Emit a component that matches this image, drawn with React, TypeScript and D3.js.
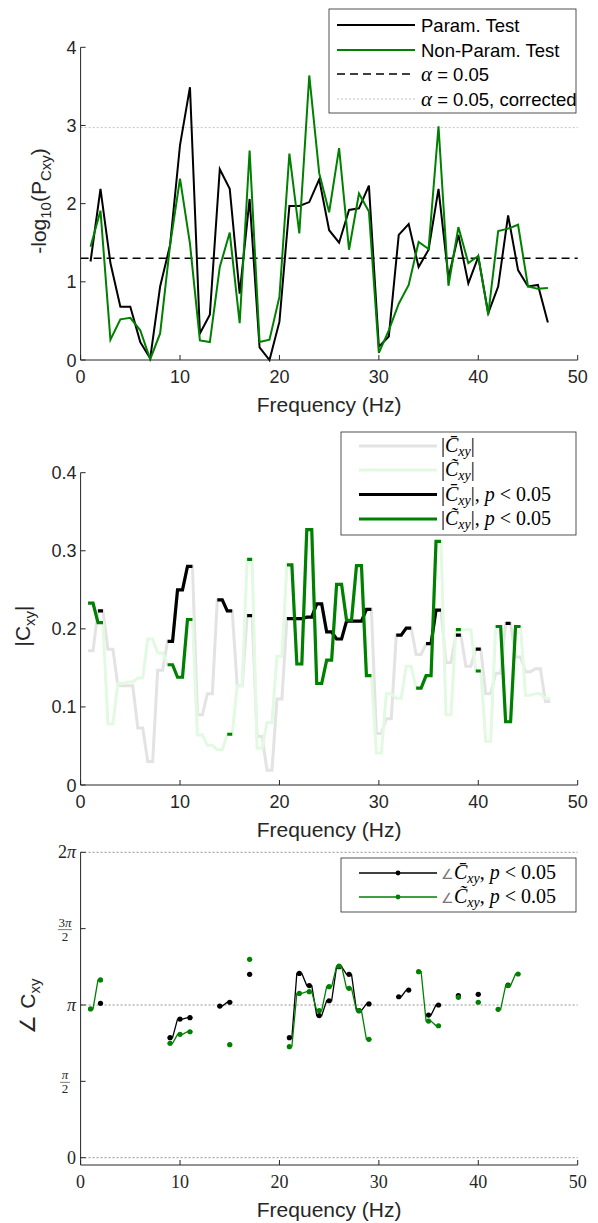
import React from "react";
import * as d3 from "d3";

const freqs = [1,2,3,4,5,6,7,8,9,10,11,12,13,14,15,16,17,18,19,20,21,22,23,24,25,26,27,28,29,30,31,32,33,34,35,36,37,38,39,40,41,42,43,44,45,46,47];

// -log10(P) parametric test
const paramLogP = [1.26,2.19,1.24,0.68,0.68,0.23,0.02,0.94,1.47,2.75,3.49,0.34,0.58,2.44,2.19,0.85,2.06,0.16,0.00,0.49,1.97,1.97,2.02,2.31,1.66,1.50,1.92,1.94,2.23,0.17,0.30,1.60,1.74,1.19,1.41,2.19,1.05,1.60,0.98,1.32,0.60,0.94,1.85,1.15,0.94,0.96,0.48];
// -log10(P) non-parametric test
const nonParamLogP = [1.45,1.91,0.26,0.52,0.54,0.38,0.01,0.34,1.47,2.32,1.49,0.25,0.23,1.19,1.63,0.47,2.68,0.23,0.26,0.81,2.64,1.62,3.64,2.39,1.89,2.71,1.41,2.13,1.90,0.09,0.38,0.72,0.96,1.51,1.42,2.99,0.95,1.70,1.24,1.33,0.58,1.65,1.68,1.73,0.94,0.91,0.92];

// |C| parametric (bar) and non-parametric (tilde)
const paramMag = [0.172,0.223,0.174,0.127,0.127,0.073,0.030,0.147,0.184,0.250,0.280,0.090,0.117,0.237,0.223,0.127,0.217,0.062,0.019,0.110,0.213,0.213,0.215,0.232,0.196,0.187,0.210,0.210,0.225,0.066,0.085,0.192,0.201,0.167,0.181,0.224,0.157,0.192,0.152,0.174,0.117,0.143,0.207,0.164,0.145,0.149,0.107];
const nonParamMag = [0.233,0.208,0.078,0.130,0.132,0.137,0.187,0.169,0.154,0.138,0.212,0.064,0.051,0.045,0.065,0.127,0.289,0.047,0.080,0.165,0.282,0.155,0.327,0.130,0.160,0.257,0.211,0.281,0.140,0.041,0.117,0.111,0.152,0.124,0.140,0.312,0.090,0.199,0.199,0.146,0.056,0.203,0.081,0.203,0.115,0.117,0.111];

// phase in units of pi (null where not significant)
const N = null;
const paramPhase = [N,1.011,N,N,N,N,N,N,0.786,0.908,0.917,N,N,0.993,1.018,N,1.201,N,N,N,0.786,1.207,1.127,0.930,1.028,1.251,1.201,0.963,1.007,N,N,1.054,1.098,N,0.934,1.000,N,1.061,N,1.070,N,N,1.130,N,N,N,N];
const nonParamPhase = [0.974,1.164,N,N,N,N,N,N,0.749,0.808,0.825,N,N,N,0.740,N,1.299,N,N,N,0.727,1.076,1.087,0.963,1.120,1.255,1.109,0.963,0.775,N,N,N,N,1.218,0.895,0.864,N,1.050,N,1.018,N,0.972,1.127,1.203,N,N,N];

const xTicks = [0,10,20,30,40,50];
const topYTicks = [0,1,2,3,4];
const midYTicks = [0,0.1,0.2,0.3,0.4];
const alphaLine = -Math.log10(0.05);
const alphaCorr = -Math.log10(0.05 / 47);

const GREEN = "#008000";
const LGREEN = "#e2f9e2";
const LGRAY = "#e3e3e3";
const AX = "#262626";
const SANS = "'Liberation Sans', Arial, Helvetica, sans-serif";
const SERIF = "'Liberation Serif', 'Times New Roman', serif";

const x = d3.scaleLinear().domain([0, 50]).range([80.6, 577.7]);
const yTop = d3.scaleLinear().domain([0, 4]).range([360, 47.3]);
const yMid = d3.scaleLinear().domain([0, 0.4]).range([785, 472.7]);
const yBot = d3.scaleLinear().domain([-0.15, 2 * Math.PI]).range([1165, 852.3]);

type P = { f: number; v: number | null };

const linePath = (vals: number[], y: d3.ScaleLinear<number, number>) =>
  d3.line<number>().x((_, i) => x(freqs[i])).y((v) => y(v))(vals) || "";

const stepPts = (vals: (number | null)[]): P[] => {
  const pts: P[] = [];
  vals.forEach((v, i) => {
    const f = freqs[i];
    if (v == null) pts.push({ f, v: null });
    else {
      pts.push({ f: f - 0.25, v });
      pts.push({ f: f + 0.25, v });
    }
  });
  return pts;
};

const stepPath = (vals: (number | null)[], y: (v: number) => number) =>
  d3
    .line<P>()
    .defined((d) => d.v != null)
    .x((d) => x(d.f))
    .y((d) => y(d.v as number))(stepPts(vals)) || "";

const sigMask = (vals: number[], logp: number[]) =>
  vals.map((v, i) => (logp[i] > alphaLine ? v : null));

function XAxis({ y0, serif, labelY }: { y0: number; serif?: boolean; labelY: number }) {
  return (
    <g>
      <line x1={x(0)} x2={x(50)} y1={y0} y2={y0} stroke={AX} strokeWidth={1} />
      {xTicks.map((t) => (
        <g key={t}>
          <line x1={x(t)} x2={x(t)} y1={y0} y2={y0 - 5} stroke={AX} strokeWidth={1} />
          <text
            x={x(t)}
            y={y0 + 23}
            textAnchor="middle"
            fontFamily={serif ? SERIF : SANS}
            fontSize={18}
            fill={AX}
          >
            {t}
          </text>
        </g>
      ))}
      <text x={x(25)} y={labelY} textAnchor="middle" fontFamily={SANS} fontSize={21} fill={AX}>
        Frequency (Hz)
      </text>
    </g>
  );
}

function YAxisLine({ top, bottom }: { top: number; bottom: number }) {
  return <line x1={x(0)} x2={x(0)} y1={top} y2={bottom} stroke={AX} strokeWidth={1} />;
}

export default function App() {
  const paramSigMag = sigMask(paramMag, paramLogP);
  const nonParamSigMag = sigMask(nonParamMag, nonParamLogP);
  const yPh = (v: number) => yBot(v * Math.PI);

  return (
    <svg
      width={598}
      height={1223}
      style={{ position: "absolute", left: 0, top: 0, background: "#fff" }}
    >
      <rect x={0} y={0} width={598} height={1223} fill="#fff" />

      {/* ================= TOP PANEL ================= */}
      <g>
        <line x1={x(0)} x2={x(50)} y1={yTop(alphaCorr)} y2={yTop(alphaCorr)} stroke="#b5b5b5" strokeWidth={0.8} strokeDasharray="2,2" />
        <line x1={x(0)} x2={x(50)} y1={yTop(alphaLine)} y2={yTop(alphaLine)} stroke="#000" strokeWidth={1.6} strokeDasharray="8,5" />
        <path d={linePath(paramLogP, yTop)} fill="none" stroke="#000" strokeWidth={2} strokeLinejoin="miter" />
        <path d={linePath(nonParamLogP, yTop)} fill="none" stroke={GREEN} strokeWidth={2} strokeLinejoin="miter" />
        <YAxisLine top={yTop(4)} bottom={yTop(0)} />
        {topYTicks.map((t) => (
          <g key={t}>
            <line x1={x(0)} x2={x(0) + 5} y1={yTop(t)} y2={yTop(t)} stroke={AX} />
            <text x={x(0) - 4} y={yTop(t) + 6.5} textAnchor="end" fontFamily={SANS} fontSize={18} fill={AX}>
              {t}
            </text>
          </g>
        ))}
        <XAxis y0={360} labelY={412} />
        <text transform="translate(46,201) rotate(-90)" textAnchor="middle" fontFamily={SANS} fontSize={21} fill={AX}>
          -log<tspan fontSize={15} dy={5}>10</tspan>
          <tspan dy={-5}>(P</tspan>
          <tspan fontSize={15} dy={5}>Cxy</tspan>
          <tspan dy={-5}>)</tspan>
        </text>
        {/* legend */}
        <rect x={329} y={9} width={247} height={104} fill="#fff" stroke={AX} strokeWidth={0.8} />
        <line x1={337} x2={415} y1={25} y2={25} stroke="#000" strokeWidth={2} />
        <text x={421} y={31.5} fontFamily={SANS} fontSize={18.5} fill="#000">Param. Test</text>
        <line x1={337} x2={415} y1={50} y2={50} stroke={GREEN} strokeWidth={2} />
        <text x={421} y={56.5} fontFamily={SANS} fontSize={18.5} fill="#000">Non-Param. Test</text>
        <line x1={337} x2={415} y1={74} y2={74} stroke="#000" strokeWidth={1.6} strokeDasharray="8,5" />
        <text x={421} y={80.5} fontFamily={SANS} fontSize={18.5} fill="#000">
          <tspan fontFamily={SERIF} fontStyle="italic" fontSize={21}>α</tspan> = 0.05
        </text>
        <line x1={337} x2={415} y1={99} y2={99} stroke="#b5b5b5" strokeWidth={0.8} strokeDasharray="2,2" />
        <text x={421} y={105.5} fontFamily={SANS} fontSize={18.5} fill="#000">
          <tspan fontFamily={SERIF} fontStyle="italic" fontSize={21}>α</tspan> = 0.05, corrected
        </text>
      </g>

      {/* ================= MIDDLE PANEL ================= */}
      <g>
        <path d={stepPath(paramMag, yMid)} fill="none" stroke={LGRAY} strokeWidth={3} />
        <path d={stepPath(nonParamMag, yMid)} fill="none" stroke={LGREEN} strokeWidth={3} />
        <path d={stepPath(paramSigMag, yMid)} fill="none" stroke="#000" strokeWidth={3.2} />
        <path d={stepPath(nonParamSigMag, yMid)} fill="none" stroke={GREEN} strokeWidth={3.2} />
        <YAxisLine top={yMid(0.4)} bottom={yMid(0)} />
        {midYTicks.map((t) => (
          <g key={t}>
            <line x1={x(0)} x2={x(0) + 5} y1={yMid(t)} y2={yMid(t)} stroke={AX} />
            <text x={x(0) - 4} y={yMid(t) + 6.5} textAnchor="end" fontFamily={SANS} fontSize={18} fill={AX}>
              {t === 0 ? "0" : String(t)}
            </text>
          </g>
        ))}
        <XAxis y0={785} labelY={837} />
        <text transform="translate(30,626) rotate(-90)" textAnchor="middle" fontFamily={SANS} fontSize={21} fill={AX}>
          |C<tspan fontSize={15} dy={5}>xy</tspan>
          <tspan dy={-5}>|</tspan>
        </text>
        {/* legend */}
        <rect x={341} y={432} width={235} height={103} fill="#fff" stroke={AX} strokeWidth={0.8} />
        {[
          { y: 446, c: LGRAY, mark: "\u0304", sig: false },
          { y: 470, c: LGREEN, mark: "\u0303", sig: false },
          { y: 494.5, c: "#000", mark: "\u0304", sig: true },
          { y: 519, c: GREEN, mark: "\u0303", sig: true },
        ].map((r, i) => (
          <g key={i}>
            <line x1={359} x2={437} y1={r.y} y2={r.y} stroke={r.c} strokeWidth={3} />
            <text x={441} y={r.y + 6} fontFamily={SERIF} fontSize={20} fill="#000">
              |<tspan fontStyle="italic">{"C" + r.mark}</tspan>
              <tspan fontStyle="italic" fontSize={14} dy={4}>xy</tspan>
              <tspan dy={-4}>|</tspan>
              {r.sig ? (
                <>
                  <tspan>, </tspan>
                  <tspan fontStyle="italic">p</tspan>
                  <tspan> &lt; 0.05</tspan>
                </>
              ) : null}
            </text>
          </g>
        ))}
      </g>

      {/* ================= BOTTOM PANEL ================= */}
      <g>
        {[0, Math.PI, 2 * Math.PI].map((v) => (
          <line key={v} x1={x(0)} x2={x(50)} y1={yBot(v)} y2={yBot(v)} stroke="#777" strokeWidth={0.8} strokeDasharray="2,2" />
        ))}
        <path d={stepPath(paramPhase, yPh)} fill="none" stroke="#000" strokeWidth={1.3} />
        {paramPhase.map((v, i) =>
          v == null ? null : <circle key={"pb" + i} cx={x(freqs[i])} cy={yPh(v)} r={2.6} fill="#000" />
        )}
        <path d={stepPath(nonParamPhase, yPh)} fill="none" stroke={GREEN} strokeWidth={1.3} />
        {nonParamPhase.map((v, i) =>
          v == null ? null : <circle key={"pg" + i} cx={x(freqs[i])} cy={yPh(v)} r={2.6} fill={GREEN} />
        )}
        <YAxisLine top={yBot(2 * Math.PI)} bottom={1165} />
        {[0, 0.5, 1, 1.5, 2].map((t) => {
          const py = yBot(t * Math.PI);
          return (
            <g key={t}>
              <line x1={x(0)} x2={x(0) + 5} y1={py} y2={py} stroke={AX} />
              {t === 0 ? (
                <text x={76} y={py + 6} textAnchor="end" fontFamily={SERIF} fontSize={18} fill={AX}>0</text>
              ) : t === 1 ? (
                <text x={76} y={py + 6} textAnchor="end" fontFamily={SERIF} fontSize={18} fontStyle="italic" fill={AX}>π</text>
              ) : t === 2 ? (
                <text x={76} y={py + 6} textAnchor="end" fontFamily={SERIF} fontSize={18} fill={AX}>
                  2<tspan fontStyle="italic">π</tspan>
                </text>
              ) : (
                <g>
                  <text x={65} y={py - 2} textAnchor="middle" fontFamily={SERIF} fontSize={13} fill={AX}>
                    {t === 1.5 ? "3" : ""}<tspan fontStyle="italic">π</tspan>
                  </text>
                  <line x1={t === 1.5 ? 58 : 60} x2={t === 1.5 ? 72 : 70} y1={py + 1} y2={py + 1} stroke={AX} strokeWidth={0.6} />
                  <text x={65} y={py + 12} textAnchor="middle" fontFamily={SERIF} fontSize={13} fill={AX}>2</text>
                </g>
              )}
            </g>
          );
        })}
        <XAxis y0={1165} serif labelY={1217} />
        <text transform="translate(35,1006) rotate(-90)" textAnchor="middle" fontFamily={SANS} fontSize={21} fill={AX}>
          ∠ C<tspan fontSize={15} dy={5}>xy</tspan>
        </text>
        {/* legend */}
        <rect x={341} y={858} width={235} height={54} fill="#fff" stroke={AX} strokeWidth={0.8} />
        {[
          { y: 873, c: "#000", mark: "\u0304" },
          { y: 897, c: GREEN, mark: "\u0303" },
        ].map((r, i) => (
          <g key={i}>
            <line x1={359} x2={437} y1={r.y} y2={r.y} stroke={r.c} strokeWidth={1.3} />
            <circle cx={398} cy={r.y} r={2.4} fill={r.c} />
            <text x={441} y={r.y + 6} fontFamily={SERIF} fontSize={20} fill="#000">
              <tspan fill="#777" fontSize={14}>∠</tspan>
              <tspan fontStyle="italic">{"C" + r.mark}</tspan>
              <tspan fontStyle="italic" fontSize={14} dy={4}>xy</tspan>
              <tspan dy={-4}>, </tspan>
              <tspan fontStyle="italic">p</tspan>
              <tspan> &lt; 0.05</tspan>
            </text>
          </g>
        ))}
      </g>
    </svg>
  );
}
